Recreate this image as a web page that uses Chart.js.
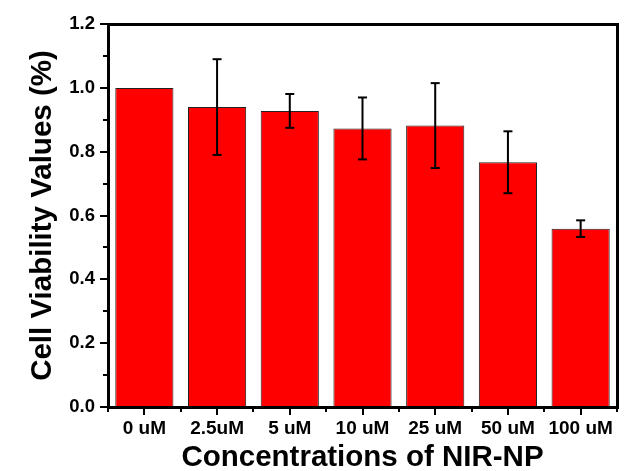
<!DOCTYPE html>
<html>
<head>
<meta charset="utf-8">
<script src="https://cdn.jsdelivr.net/npm/chart.js@4/dist/chart.umd.min.js"></script>
<style>
html,body{margin:0;padding:0;background:#fff;}
#wrap{width:624px;height:471px;position:relative;}
</style>
</head>
<body>
<div id="wrap"><canvas id="c" width="624" height="471"></canvas></div>
<script>
const categories = ["0 uM", "2.5uM", "5 uM", "10 uM", "25 uM", "50 uM", "100 uM"];
const values = [1.0, 0.94, 0.928, 0.873, 0.882, 0.767, 0.559];
const errors = [0, 0.15, 0.053, 0.097, 0.133, 0.097, 0.026];
const yMajorTicks = [0, 0.2, 0.4, 0.6, 0.8, 1.0, 1.2];
const yMinorTicks = [0.1, 0.3, 0.5, 0.7, 0.9, 1.1];

const FONT = '"Liberation Sans", Arial, Helvetica, sans-serif';

const overlay = {
  id: 'overlay',
  afterDraw(chart) {
    const ctx = chart.ctx;
    const a = chart.chartArea;
    const y = chart.scales.y, x = chart.scales.x;
    const meta = chart.getDatasetMeta(0);
    ctx.save();
    ctx.fillStyle = '#000000';
    // error bars
    meta.data.forEach((bar, i) => {
      const e = errors[i];
      if (!e) return;
      const bx = bar.x;
      const t = y.getPixelForValue(values[i] + e);
      const b = y.getPixelForValue(values[i] - e);
      ctx.fillRect(bx - 1, t, 2, b - t);
      ctx.fillRect(bx - 4.5, t - 1, 9, 2);
      ctx.fillRect(bx - 4.5, b - 1, 9, 2);
    });
    // frame
    const L = Math.round(a.left), R = Math.round(a.right), T = Math.round(a.top), B = Math.round(a.bottom);
    ctx.fillRect(L - 1, T - 1, R - L + 3, 3);
    ctx.fillRect(L - 1, B - 1, R - L + 3, 3);
    ctx.fillRect(L - 1, T - 1, 3, B - T + 3);
    ctx.fillRect(R - 1, T - 1, 3, B - T + 3);
    // y ticks
    yMajorTicks.forEach(v => {
      const p = Math.round(y.getPixelForValue(v));
      ctx.fillRect(L - 8, p - 1, 8, 2);
    });
    yMinorTicks.forEach(v => {
      const p = Math.round(y.getPixelForValue(v));
      ctx.fillRect(L - 5, p - 1, 5, 2);
    });
    // x ticks
    const n = categories.length;
    const w = (a.right - a.left) / n;
    for (let i = 0; i < n; i++) {
      const p = Math.round(x.getPixelForValue(i));
      ctx.fillRect(p - 1, B, 2, 8);
    }
    for (let i = 0; i <= n; i++) {
      const p = Math.round(x.getPixelForValue(i) - w / 2);
      ctx.fillRect(p - 1, B, 2, 5);
    }
    ctx.restore();
  }
};

new Chart(document.getElementById('c'), {
  type: 'bar',
  data: {
    labels: categories,
    datasets: [{
      data: values,
      backgroundColor: '#ff0000',
      borderColor: '#222222',
      borderWidth: 1,
      categoryPercentage: 0.8,
      barPercentage: 1.0
    }]
  },
  options: {
    responsive: false,
    animation: false,
    devicePixelRatio: 1,
    layout: { padding: { top: 24, right: 7, left: 0, bottom: 0 } },
    plugins: { legend: { display: false }, tooltip: { enabled: false } },
    scales: {
      x: {
        afterFit(s) { s.height = 64; },
        grid: { display: false, drawTicks: false },
        border: { display: false },
        ticks: { color: '#000', padding: 10, maxRotation: 0, autoSkip: false,
                 font: { family: FONT, weight: 'bold', size: 19 } },
        title: { display: true, text: 'Concentrations of NIR-NP', color: '#000',
                 padding: { top: 0, bottom: -5 },
                 font: { family: FONT, weight: 'bold', size: 29.5 } }
      },
      y: {
        min: 0, max: 1.2,
        afterFit(s) { s.width = 108; },
        afterBuildTicks(s) { s.ticks = yMajorTicks.map(v => ({ value: v })); },
        grid: { display: false, drawTicks: false },
        border: { display: false },
        ticks: { color: '#000', padding: 13,
                 callback: v => Number(v).toFixed(1),
                 font: { family: FONT, weight: 'bold', size: 18.5 } },
        title: { display: true, text: 'Cell Viability Values (%)', color: '#000',
                 padding: { top: 25, bottom: 0 },
                 font: { family: FONT, weight: 'bold', size: 29.5 } }
      }
    }
  },
  plugins: [overlay]
});
</script>
</body>
</html>
